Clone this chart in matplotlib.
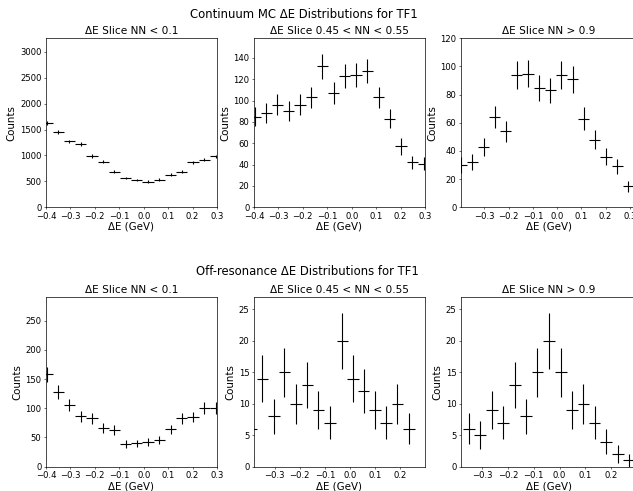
import numpy as np
import matplotlib
matplotlib.use("Agg")
import matplotlib.pyplot as plt
from matplotlib.ticker import MultipleLocator

# bin centres (GeV)
centres = [-0.396, -0.350, -0.304, -0.258, -0.212, -0.166, -0.120, -0.074,
           -0.028, 0.018, 0.064, 0.110, 0.156, 0.202, 0.248, 0.294]
centres_off_mid = [-0.3945, -0.3498, -0.3040, -0.2617, -0.2155, -0.1697, -0.1263,
                   -0.0801, -0.0299, 0.0119, 0.0542, 0.1004, 0.1439, 0.1897, 0.2359]
centres_off_hi = [-0.3508, -0.3068, -0.2624, -0.2195, -0.1727, -0.1299, -0.0858,
                  -0.0402, 0.0038, 0.0479, 0.0923, 0.1351, 0.1804, 0.2248, 0.2700]
bin_half = 0.023

# continuum MC counts
mc_lo = [1630, 1450, 1270, 1225, 990, 875, 685, 560, 525, 495, 535, 630, 690, 865, 915, 980]
mc_mid = [85, 88, 96, 90, 96, 103, 132, 107, 123, 124, 128, 103, 83, 57, 42, 41]
mc_hi = [30, 32, 43, 64, 54, 94, 95, 85, 83, 94, 91, 63, 48, 36, 29, 15]

# off-resonance counts
off_lo = [158, 128, 106, 86, 83, 66, 63, 39, 40, 42, 45, 64, 83, 85, 101, 101]
off_mid = [6, 14, 8, 15, 10, 13, 9, 7, 20, 14, 12, 9, 7, 10, 6]
off_hi = [6, 5, 9, 7, 13, 8, 15, 20, 15, 9, 10, 7, 4, 2, 1]

slice_titles = ["ΔE Slice NN < 0.1", "ΔE Slice 0.45 < NN < 0.55", "ΔE Slice NN > 0.9"]

W, H = 633, 491
fig = plt.figure(figsize=(W / 100, H / 100), dpi=100)

col_left = [46, 254, 461]
col_width = [171, 171, 176]
row_top = [38.3, 296.7]
row_height = [169, 170]

panels = [
    (0, 0, centres, mc_lo, (-0.4, 0.3), (0, 3260), 500),
    (0, 1, centres, mc_mid, (-0.4, 0.3), (0, 158.4), 20),
    (0, 2, centres, mc_hi, (-0.397, 0.33), (0, 120), 20),
    (1, 0, centres, off_lo, (-0.4, 0.3), (0, 291), 50),
    (1, 1, centres_off_mid, off_mid, (-0.383, 0.2995), (0, 27), 5),
    (1, 2, centres_off_hi, off_hi, (-0.382, 0.2995), (0, 27), 5),
]

for row, col, x, counts, xlim, ylim, ystep in panels:
    left = col_left[col] / W
    bottom = 1 - (row_top[row] + row_height[row]) / H
    ax = fig.add_axes([left, bottom, col_width[col] / W, row_height[row] / H])
    counts = np.array(counts, dtype=float)
    ax.errorbar(x, counts, xerr=bin_half, yerr=np.sqrt(counts), fmt="none",
                ecolor="k", elinewidth=0.8)
    ax.set_xlim(*xlim)
    ax.set_ylim(*ylim)
    ax.xaxis.set_major_locator(MultipleLocator(0.1))
    ax.yaxis.set_major_locator(MultipleLocator(ystep))
    ax.tick_params(labelsize=6.1, length=1.75, width=0.4, pad=1.5)
    for sp in ax.spines.values():
        sp.set_linewidth(0.5)
    ax.set_title(slice_titles[col], fontsize=7.6, pad=2.8)
    ax.set_xlabel("ΔE (GeV)", fontsize=7.4, labelpad=0.8)
    ax.set_ylabel("Counts", fontsize=7.4, labelpad=2.5)

fig.text(303.5 / W, 1 - 14 / H, "Continuum MC ΔE Distributions for TF1",
         ha="center", va="center", fontsize=8.4)
fig.text(307.5 / W, 1 - 271.5 / H, "Off-resonance ΔE Distributions for TF1",
         ha="center", va="center", fontsize=8.4)

fig.savefig("out.png", dpi=100)
